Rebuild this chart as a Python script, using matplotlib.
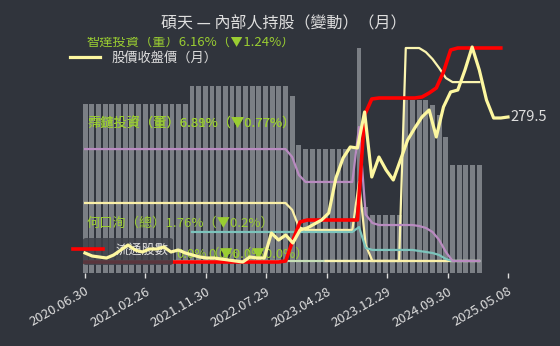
import matplotlib
matplotlib.use("Agg")
import matplotlib.pyplot as plt
from matplotlib.lines import Line2D
from matplotlib.patches import FancyBboxPatch

plt.rcParams['font.family'] = ['Noto Sans CJK TC', 'DejaVu Sans']

# ---------------------------------------------------------------------------
# Data (monthly, 2020.06 .. 2025.05)
# ---------------------------------------------------------------------------
months = list(range(60))

tick_labels = ['2020.06.30', '2021.02.26', '2021.11.30', '2022.07.29',
               '2023.04.28', '2023.12.29', '2024.09.30', '2025.05.08']

close_price = [61.9, 57.1, 55.5, 53.9, 58.7, 66.7, 74.7, 66.7, 63.5, 68.3,
               68.3, 71.5, 63.5, 66.7, 61.9, 58.7, 55.5, 53.9, 53.9, 52.3,
               50.7, 49.1, 47.5, 55.5, 53.9, 53.9, 93.9, 82.7, 90.7, 77.9,
               98.7, 101.9, 108.3, 114.7, 125.9, 181.9, 213.9, 231.5, 229.9, 287.5,
               183.5, 215.5, 194.7, 178.7, 210.7, 242.7, 261.9, 279.5, 290.7, 247.5,
               295.5, 319.5, 322.7, 354.7, 391.5, 354.7, 306.7, 277.9, 277.9, 279.5]

# grey bars (total insider holding)
insider_total = ([16.9] * 16 + [18.7] * 15 + [17.7, 12.8] + [12.4] * 8 +
                 [22.5, 6.6] + [5.8] * 5 + [17.3] * 4 + [16.8, 15.8, 13.6] +
                 [10.8] * 5)

# red line, one month shorter than the price series
float_shares = ([1.1] * 28 + [1.2, 3.3, 5.1] + [5.3] * 8 + [15.8, 17.4] +
                [17.5] * 6 + [17.6, 18.0, 18.5, 20.1, 22.3] + [22.5] * 7)

# individual holders, % of shares
nan = float('nan')
holder_purple = ([7.72] * 31 + [7.17, 5.93] + [5.45] * 8 + [9.24, 3.2, 2.62] +
                 [2.48] * 6 + [2.41, 2.28, 2.0, 1.45, 0.62] + [0.0] * 5)
holder_yellow = ([4.0] * 31 + [3.52, 2.34] + [2.14] * 8 + [5.45, 1.1] +
                 [0.0] * 17)
holder_teal = ([nan] * 16 + [2.0] * 25 + [2.34, 0.9] + [0.76] * 7 +
               [0.69, 0.62, 0.55, 0.41, 0.14] + [0.0] * 5)
holder_cream = ([nan] * 36 + [0.0] * 12 + [14.69] * 3 +
                [14.41, 13.93, 13.31, 12.62] + [12.34] * 5)
holder_green = [0.0] * 60

# ---------------------------------------------------------------------------
# Layout helpers (pixel -> figure fraction)
# ---------------------------------------------------------------------------
W, H = 560, 346
BG = '#30343c'
LABEL_GREEN = '#9acd32'
TEXT = '#dedede'


def fx(px):
    return px / W


def fy(py):
    return 1 - py / H


rect = [fx(70), fy(273), (512 - 70) / W, (273 - 37) / H]
PRICE_XLIM = (-2.09, 59.56)
BAR_XLIM = (-2.26, 63.9)

fig = plt.figure(figsize=(W / 100, H / 100), dpi=100)
fig.patch.set_facecolor(BG)

# bars
ax_bar = fig.add_axes(rect)
ax_bar.bar(months, insider_total, width=0.72, color='#7b7f85', linewidth=0)
ax_bar.set_xlim(*BAR_XLIM)
ax_bar.set_ylim(0, 23.6)
ax_bar.axis('off')

# holder lines + their labels
ax_hold = fig.add_axes(rect)
ax_hold.plot(months, holder_green, color='#c6dfb6', lw=1.6)
ax_hold.plot(months, holder_cream, color='#fbf5b0', lw=1.6)
ax_hold.plot(months, holder_yellow, color='#fbf0a8', lw=1.6)
ax_hold.plot(months, holder_teal, color='#7cc4bc', lw=1.6)
ax_hold.plot(months, holder_purple, color='#b98bc0', lw=1.6)
ax_hold.set_xlim(*BAR_XLIM)
ax_hold.set_ylim(-0.83, 15.45)
ax_hold.axis('off')

# the source chart stacks several labels on top of each other
labels = [
    ('智達投資（董）6.16%（▼1.24%）', 86, 43.5),
    ('霈鑓投資（董）6.31%（▼0.77%）', 87, 124),
    ('霈鑓投資（董）6.89%（▼0.77%）', 87, 124),
    ('何口洵（總）1.76%（▼0.2%）', 87, 223),
    ('0.0%（▼0.0%）', 176, 254),
    ('0.0%（▼0.0%）', 208, 254),
]
for txt, x, y in labels:
    ax_hold.text(fx(x), fy(y), txt, transform=fig.transFigure, color=LABEL_GREEN,
                 fontsize=9.5, ha='left', va='center', clip_on=True)

# red line, dark legend box
ax_red = fig.add_axes(rect)
ax_red.plot(range(len(float_shares)), float_shares, color='#ff0000', lw=2.6,
            solid_joinstyle='round')
ax_red.set_xlim(*PRICE_XLIM)
ax_red.set_ylim(0, 23.6)
ax_red.axis('off')
box = FancyBboxPatch((fx(83), fy(265)), 90 / W, 27 / H,
                     boxstyle='round,pad=0,rounding_size=0.006',
                     transform=fig.transFigure, facecolor='#3d4048',
                     edgecolor='none', alpha=0.85, zorder=4)
ax_red.add_patch(box)
ax_red.legend(handles=[Line2D([], [], color='#ff0000', lw=2.6)], labels=['流通股數'],
              loc='center left', bbox_to_anchor=(fx(73), fy(250)),
              bbox_transform=fig.transFigure, frameon=False, borderpad=0,
              borderaxespad=0, handlelength=2.3, handletextpad=0.9,
              prop={'size': 9.5}, labelcolor=TEXT)

# price line on top
ax = fig.add_axes(rect)
ax.plot(months, close_price, color='#fdf7a0', lw=2.3, solid_joinstyle='round')
ax.set_xlim(*PRICE_XLIM)
ax.set_ylim(29.9, 407.5)
ax.patch.set_visible(False)
for s in ax.spines.values():
    s.set_visible(False)
ax.set_yticks([])
ax.set_xticks([k * 59 / 7 for k in range(len(tick_labels))])
ax.set_xticklabels(tick_labels)
ax.tick_params(axis='x', colors=TEXT, length=3.5, width=1, labelsize=9.5, pad=5)
plt.setp(ax.get_xticklabels(), rotation=30, ha='right', rotation_mode='anchor')

ax.annotate(f'{close_price[-1]}', xy=(59, close_price[-1]), xytext=(2, 0),
            textcoords='offset points', color=TEXT, fontsize=10.5,
            ha='left', va='center', annotation_clip=False)

ax.legend(handles=[Line2D([], [], color='#fdf7a0', lw=2.3)], labels=['股價收盤價（月）'],
          loc='center left', bbox_to_anchor=(fx(70), fy(58)),
          bbox_transform=fig.transFigure, frameon=False, borderpad=0,
          borderaxespad=0, handlelength=2.3, handletextpad=0.85,
          prop={'size': 9.5}, labelcolor=TEXT)

fig.text(fx(284), fy(24), '碩天 — 內部人持股（變動）（月）', color=TEXT,
         fontsize=11.5, ha='center', va='center')

fig.savefig('out.png', dpi=100, facecolor=BG)
